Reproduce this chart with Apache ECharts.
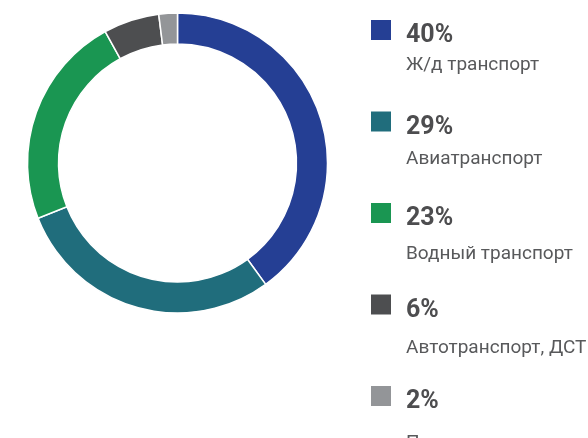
<!DOCTYPE html>
<html>
<head>
<meta charset="utf-8">
<style>
  html, body { margin: 0; padding: 0; background: #fff; }
  #chart { width: 588px; height: 438px; }
</style>
<script src="https://cdn.jsdelivr.net/npm/echarts@6/dist/echarts.min.js"></script>
</head>
<body>
<div id="chart"></div>
<script>
// shares of transport modes, %
var names = ['Ж/д транспорт', 'Авиатранспорт', 'Водный транспорт', 'Автотранспорт, ДСТ', 'Прочее'];
var shares = [40, 29, 23, 6, 2];
var colors = ['#253f94', '#206d7c', '#1a9652', '#4d4e50', '#939598'];

var chart = echarts.init(document.getElementById('chart'));

// two stacked legends: square + percent, then the name underneath
var rowStep = 91;

var option = {
    animation: false,
    color: colors,
    legend: [{
        orient: 'vertical',
        left: 369,
        top: 18,
        height: 430,
        padding: 0,
        itemWidth: 22,
        itemHeight: 22,
        itemGap: rowStep - 30,
        icon: 'rect',
        selectedMode: false,
        data: names,
        formatter: function (name) {
            return '{p|' + shares[names.indexOf(name)] + '%}';
        },
        textStyle: {
            rich: {
                p: {
                    fontFamily: 'Roboto',
                    fontWeight: 'bold',
                    fontSize: 25,
                    color: '#4d4d4f',
                    padding: [12, 0, 0, 9]
                }
            }
        }
    }, {
        orient: 'vertical',
        left: 369,
        top: 49,
        height: 430,
        padding: 0,
        itemWidth: 22,
        itemHeight: 10,
        itemGap: rowStep - 22,
        icon: 'rect',
        itemStyle: { opacity: 0 },
        selectedMode: false,
        data: names,
        formatter: '{n|{name}}',
        textStyle: {
            rich: {
                n: {
                    fontFamily: 'Roboto',
                    fontSize: 19,
                    height: 2,
                    color: '#58595b',
                    padding: [20, 0, 0, 9]
                }
            }
        }
    }],
    series: [{
        type: 'pie',
        center: [177.5, 163],
        radius: [119, 150],
        startAngle: 90,
        clockwise: true,
        label: { show: false },
        labelLine: { show: false },
        emphasis: { disabled: true },
        itemStyle: { borderColor: '#fff', borderWidth: 1.5 },
        data: names.map(function (n, i) {
            return { name: n, value: shares[i] };
        })
    }]
};

chart.setOption(option);
</script>
</body>
</html>
